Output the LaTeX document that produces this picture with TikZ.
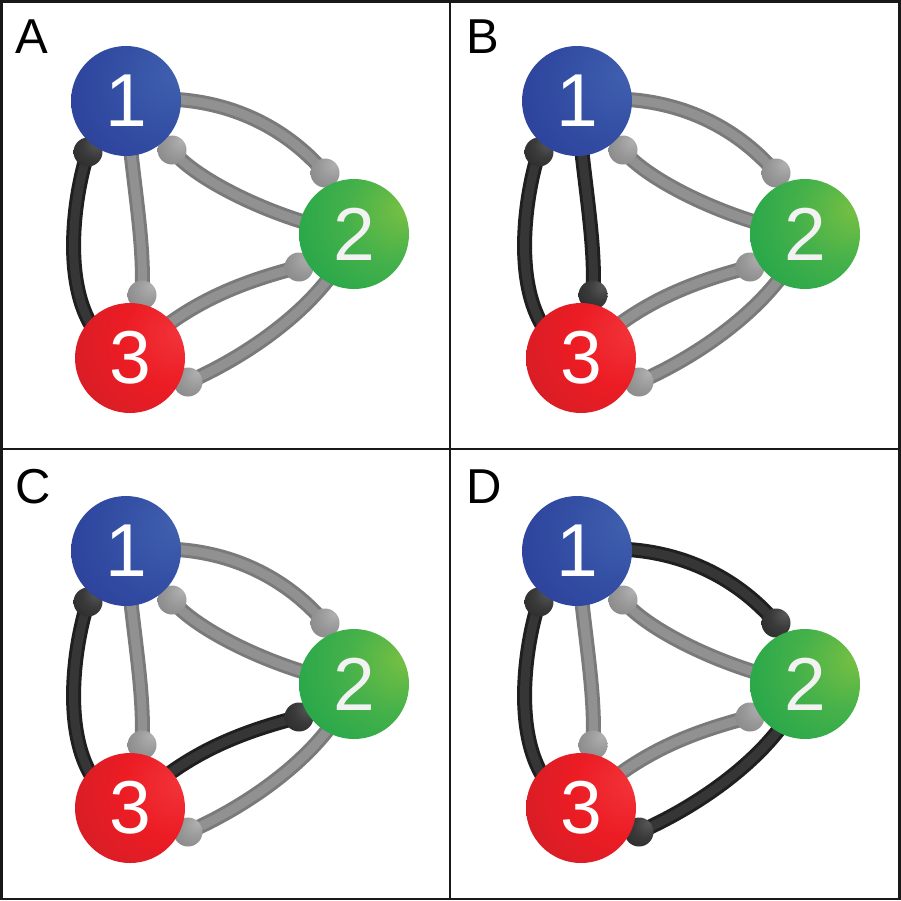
\documentclass[tikz,border=0pt]{standalone}
\usepackage{fontspec}
\setmainfont{Liberation Sans}
\pgfdeclarelayer{tubes}
\pgfdeclarelayer{knobs}
\pgfsetlayers{tubes,knobs,main}
\definecolor{bl1}{HTML}{4160AE}
\definecolor{bl2}{HTML}{3450A5}
\definecolor{bl3}{HTML}{2B3D98}
\definecolor{bl4}{HTML}{1F2A80}
\definecolor{gr1}{HTML}{78C043}
\definecolor{gr2}{HTML}{45B14A}
\definecolor{gr3}{HTML}{1CA34A}
\definecolor{gr4}{HTML}{0E7D3B}
\definecolor{rd1}{HTML}{F2343A}
\definecolor{rd2}{HTML}{EC1C24}
\definecolor{rd3}{HTML}{D01E26}
\definecolor{rd4}{HTML}{961A1E}
\definecolor{kg1}{HTML}{B0B0B0}
\definecolor{kg2}{HTML}{999999}
\definecolor{kg3}{HTML}{828282}
\definecolor{kg4}{HTML}{5C5C5C}
\definecolor{kb1}{HTML}{585858}
\definecolor{kb2}{HTML}{3A3A3A}
\definecolor{kb3}{HTML}{272727}
\definecolor{kb4}{HTML}{121212}
\definecolor{tg1}{HTML}{919191}
\definecolor{tg2}{HTML}{7A7A7A}
\definecolor{tb1}{HTML}{363636}
\definecolor{tb2}{HTML}{1F1F1F}
\pgfdeclareradialshading{sphB}{\pgfpoint{24bp}{12bp}}{color(0bp)=(bl1); color(22bp)=(bl2); color(50bp)=(bl3); color(74bp)=(bl4); color(100bp)=(bl4)}
\pgfdeclareradialshading{sphG}{\pgfpoint{24bp}{12bp}}{color(0bp)=(gr1); color(22bp)=(gr2); color(50bp)=(gr3); color(74bp)=(gr4); color(100bp)=(gr4)}
\pgfdeclareradialshading{sphR}{\pgfpoint{24bp}{12bp}}{color(0bp)=(rd1); color(22bp)=(rd2); color(50bp)=(rd3); color(74bp)=(rd4); color(100bp)=(rd4)}
\pgfdeclareradialshading{knG}{\pgfpoint{16bp}{16bp}}{color(0bp)=(kg1); color(22bp)=(kg2); color(50bp)=(kg3); color(74bp)=(kg4); color(100bp)=(kg4)}
\pgfdeclareradialshading{knK}{\pgfpoint{16bp}{16bp}}{color(0bp)=(kb1); color(22bp)=(kb2); color(50bp)=(kb3); color(74bp)=(kb4); color(100bp)=(kb4)}
\tikzset{
  sphere/.style={circle, minimum size=110pt, inner sep=0pt, text=white,
    font=\fontsize{75}{75}\selectfont},
  gknob/.style={circle, minimum size=29pt, inner sep=0pt, shading=knG},
  bknob/.style={circle, minimum size=29pt, inner sep=0pt, shading=knK},
  gtube/.style={draw=tg2, double=tg1, line width=3pt, double distance=9pt},
  btube/.style={draw=tb2, double=tb1, line width=3pt, double distance=9pt},
  panellab/.style={inner sep=0pt, anchor=base west, font=\fontsize{49}{49}\selectfont},
  frame/.style={draw=black!90, line width=2.5pt}
}
\newcommand\netpanel[9]{%
\begin{scope}[shift={(#2,#3)}]
 \node[sphere, shading=sphB] (#1n1) at (126,101) {1};
 \node[sphere, shading=sphG, text=white!90!gray] (#1n2) at (354,234) {2};
 \node[sphere, shading=sphR] (#1n3) at (130,358) {3};
 \begin{pgfonlayer}{knobs}
 \node[#4knob] (#1k12) at (325,173) {};
 \node[#5knob] (#1k21) at (172,150) {};
 \node[#6knob] (#1k13) at (142,295) {};
 \node[#7knob] (#1k31) at (88,152) {};
 \node[#8knob] (#1k32) at (299,267) {};
 \node[#9knob] (#1k23) at (188,382) {};
 \end{pgfonlayer}
 \begin{pgfonlayer}{tubes}
 \draw[#4tube] (#1n1.center) .. controls (215,90) and (282,123) .. (#1k12.center);
 \draw[#5tube] (#1n2.center) .. controls (280,222) and (195,180) .. (#1k21.center);
 \draw[#6tube] (#1n1.center) .. controls (132,180) and (145,240) .. (#1k13.center);
 \draw[#7tube] (#1n3.center) .. controls (53,330) and (72,200) .. (#1k31.center);
 \draw[#8tube] (#1n3.center) .. controls (185,300) and (250,280) .. (#1k32.center);
 \draw[#9tube] (#1n2.center) .. controls (330,300) and (250,355) .. (#1k23.center);
 \end{pgfonlayer}
 \node[panellab] (#1lab) at (15,53) {#1};
\end{scope}}
\begin{document}
\begin{tikzpicture}[x=1pt,y=-1pt]
\useasboundingbox (0,0) rectangle (901,900);
\begin{pgfonlayer}{tubes}
\fill[white] (0,0) rectangle (901,900);
\end{pgfonlayer}
\netpanel{A}{0}{0}{g}{g}{g}{b}{g}{g}
\netpanel{B}{451}{0}{g}{g}{b}{b}{g}{g}
\netpanel{C}{0}{450}{g}{g}{g}{b}{b}{g}
\netpanel{D}{451}{450}{b}{g}{g}{b}{g}{b}
\draw[frame] (1.25,1.25) rectangle (899.25,898.75);
\draw[frame] (450,1.25) -- (450,898.75);
\draw[frame] (1.25,449) -- (899.25,449);
\end{tikzpicture}
\end{document}
